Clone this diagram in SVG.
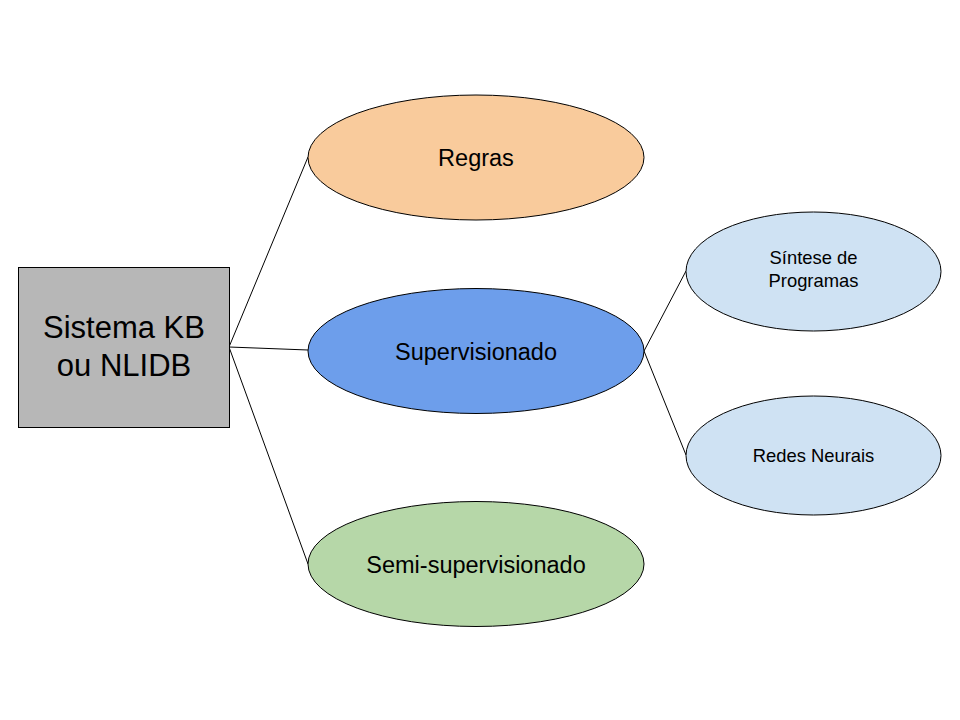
<svg xmlns="http://www.w3.org/2000/svg" width="960" height="720" viewBox="0 0 960 720">
<style>
.s{stroke:#000;stroke-width:1}
.t{font-family:"Liberation Sans",Arial,sans-serif;fill:#000;text-anchor:middle}
.c{stroke:#000;stroke-width:1;fill:none}
.m{font-size:23.5px}
.k{font-size:18.4px}
</style>
<rect width="960" height="720" fill="#fff"/>
<g id="connectors">
<line class="c" x1="229" y1="347" x2="308" y2="157"/>
<line class="c" x1="229" y1="347" x2="308" y2="350"/>
<line class="c" x1="229" y1="347" x2="308" y2="564"/>
<line class="c" x1="644" y1="351" x2="686" y2="271"/>
<line class="c" x1="644" y1="351" x2="686" y2="455"/>
</g>
<g id="sistema">
<rect class="s" x="18.5" y="267.5" width="211" height="160" fill="#b7b7b7"/>
<text class="t" x="124" y="338" font-size="31">Sistema KB</text>
<text class="t" x="124" y="376" font-size="31">ou NLIDB</text>
</g>
<g id="regras">
<ellipse class="s" cx="476" cy="157.5" rx="168" ry="62.5" fill="#f9cb9c"/>
<text class="t m" x="476" y="166">Regras</text>
</g>
<g id="supervisionado">
<ellipse class="s" cx="476" cy="351" rx="168" ry="62.5" fill="#6d9eeb"/>
<text class="t m" x="476" y="359.5">Supervisionado</text>
</g>
<g id="semi">
<ellipse class="s" cx="476" cy="564" rx="168" ry="62.5" fill="#b6d7a8"/>
<text class="t m" x="476" y="572.5">Semi-supervisionado</text>
</g>
<g id="sintese">
<ellipse class="s" cx="813.5" cy="271.5" rx="127.5" ry="59.5" fill="#cfe2f3"/>
<text class="t k" x="813.5" y="264">Síntese de</text>
<text class="t k" x="813.5" y="287">Programas</text>
</g>
<g id="redes">
<ellipse class="s" cx="813.5" cy="455.5" rx="127.5" ry="59.5" fill="#cfe2f3"/>
<text class="t k" x="813.5" y="462">Redes Neurais</text>
</g>
</svg>
